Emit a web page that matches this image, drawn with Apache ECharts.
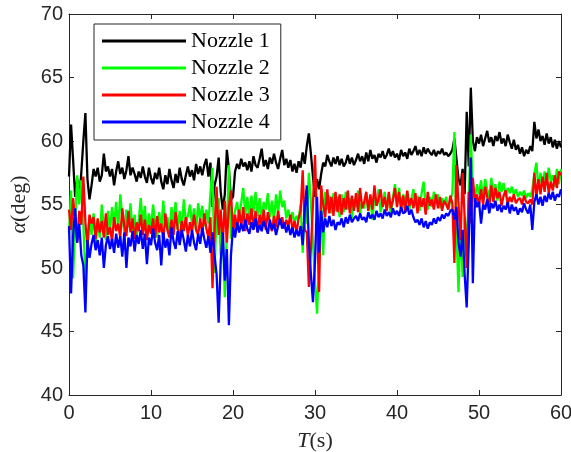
<!DOCTYPE html>
<html>
<head>
<meta charset="UTF-8">
<title>Nozzle angle</title>
<script src="https://cdn.jsdelivr.net/npm/echarts@6/dist/echarts.min.js"></script>
</head>
<body style="margin:0;background:#fff;">
<div id="main" style="width:571px;height:452px;"></div>
<script type="text/javascript">
// sample step (s) of the recorded signals
var dt = 0.25;
var seriesNames = ['Nozzle 1', 'Nozzle 2', 'Nozzle 3', 'Nozzle 4'];
var seriesColors = ['#000000', '#00ff00', '#ff0000', '#0000ff'];
var xTicks = [0, 10, 20, 30, 40, 50, 60];
var yTicks = [40, 45, 50, 55, 60, 65, 70];

// one row = 5 s
var nozzle1 = [
  57.2,61.3,58.5,55.6, 57.0,55.4,57.5,60.0, 62.2,57.0,55.4,56.5, 57.8,57.2,57.9,56.8, 57.3,59.0,57.6,58.0,
  57.2,57.8,56.5,57.6, 58.4,57.4,57.9,57.0, 57.7,58.8,57.3,57.9, 57.4,56.8,57.6,57.1, 58.0,57.2,56.7,57.9,
  57.1,56.6,57.5,57.0, 57.9,56.8,56.2,57.3, 56.6,57.8,56.9,56.3, 57.4,56.7,57.9,57.0, 56.5,57.3,58.0,57.2,
  57.7,56.9,58.2,57.4, 58.0,57.3,58.1,58.6, 57.2,58.3,54.8,56.5, 57.2,58.7,56.0,54.6, 55.8,59.3,57.8,55.4,
  55.6,57.6,58.2,57.8, 58.6,58.0,58.3,57.7, 58.4,57.6,58.8,58.1, 57.9,58.6,59.4,58.0, 58.5,57.8,58.7,58.2,
  59.0,58.3,57.8,58.6, 59.3,58.1,58.6,57.9, 58.5,57.6,58.2,57.5, 58.4,57.9,59.1,58.2, 59.6,60.6,59.0,57.2,
  55.6,57.0,56.2,57.4, 58.3,58.0,58.9,58.4, 58.0,58.7,58.2,58.8, 58.1,58.6,58.0,58.3, 58.9,58.2,58.7,58.1,
  58.5,59.0,58.4,58.8, 58.2,59.1,58.4,59.3, 58.6,58.9,58.3,59.0, 58.7,59.2,58.6,58.9, 59.4,58.8,59.2,58.7,
  59.0,58.5,59.3,58.8, 59.1,58.6,59.4,58.9, 59.2,59.6,58.9,59.3, 58.8,59.5,59.0,59.4, 59.1,58.9,59.3,58.8,
  59.2,59.0,59.4,58.9, 59.1,58.8,59.0,59.3, 60.2,58.6,57.0,56.5, 57.8,55.8,62.3,58.0, 64.2,60.0,59.2,60.3,
  59.8,60.5,59.6,60.2, 60.8,59.9,60.3,59.6, 60.4,60.0,60.7,59.8, 60.2,59.6,60.5,59.9, 59.4,60.1,59.3,59.7,
  59.0,59.5,58.8,59.3, 59.0,59.6,59.2,61.5, 60.2,60.9,60.0,60.4, 59.7,60.6,59.8,60.3, 59.5,60.1,59.4,60.0,
  59.5
];
var nozzle2 = [
  52.8,56.1,49.2,53.5, 57.3,55.0,56.9,53.4, 49.2,51.8,54.0,52.6, 54.3,52.0,53.8,52.4, 55.0,53.1,52.2,54.5,
  52.9,54.8,53.3,55.2, 53.0,55.8,54.0,52.8, 54.6,53.2,55.1,52.7, 54.2,52.5,53.7,55.5, 53.4,54.9,52.6,54.3,
  53.1,55.0,53.6,52.4, 54.4,52.9,55.3,53.2, 54.0,52.6,54.8,53.5, 55.2,53.0,54.5,52.8, 55.4,53.6,54.1,55.0,
  53.4,54.7,52.9,55.1, 53.8,54.9,53.3,54.6, 53.5,55.9,57.9,49.6, 54.5,55.5,51.0,53.0, 47.7,53.0,58.1,52.3,
  53.6,54.5,55.2,53.8, 55.1,56.3,54.2,55.6, 53.9,55.7,54.4,56.0, 54.1,55.5,53.8,55.2, 54.6,55.9,54.0,55.3,
  53.7,55.8,54.3,56.1, 54.8,55.3,53.9,54.6, 53.7,54.4,53.5,54.1, 53.9,55.0,51.2,54.8, 53.5,57.5,55.2,52.0,
  49.0,46.4,50.5,55.3, 51.0,56.0,54.6,55.7, 54.3,55.9,54.5,55.6, 54.0,55.8,54.4,56.0, 54.6,55.5,53.9,55.4,
  54.8,56.1,54.3,55.2, 54.7,55.9,54.5,55.6, 53.8,55.7,54.9,56.2, 54.4,55.1,56.0,54.6, 55.7,54.2,55.5,56.6,
  55.0,56.3,54.7,55.8, 55.2,56.0,54.6,55.4, 56.2,54.9,55.7,54.5, 55.9,56.8,55.0,54.6, 55.6,54.8,56.0,55.3,
  55.8,54.7,55.5,55.0, 55.6,54.6,55.3,55.9, 60.7,53.0,48.1,53.5, 49.3,54.0,52.0,55.5, 60.5,56.0,55.5,56.6,
  55.8,56.9,55.4,57.0, 56.2,55.5,57.1,55.9, 56.6,55.3,56.8,56.0, 56.7,55.6,56.3,55.9, 56.4,55.8,56.2,55.6,
  56.0,55.7,56.1,55.5, 55.9,55.6,56.2,57.4, 58.3,56.2,57.5,56.4, 57.6,56.5,57.9,56.8, 57.3,56.4,57.8,56.6,
  57.8
];
var nozzle3 = [
  54.6,53.0,55.5,53.6, 52.0,54.5,53.4,57.2, 53.6,51.6,54.2,53.5, 54.0,52.3,53.9,52.8, 53.7,52.4,54.3,52.6,
  53.2,52.1,54.0,52.9, 53.5,52.4,54.7,53.3, 52.5,54.5,52.8,53.9, 52.3,53.6,52.9,54.2, 52.6,53.8,52.2,53.4,
  52.7,53.9,52.4,54.1, 52.8,53.5,52.1,54.3, 53.0,52.4,53.8,52.6, 54.4,53.1,52.3,53.7, 52.9,54.0,52.5,53.6,
  52.8,54.2,53.0,52.6, 53.9,52.7,54.3,53.1, 52.4,54.0,48.4,53.0, 56.4,52.6,54.6,51.8, 55.3,52.0,54.8,56.1,
  52.6,54.2,53.0,54.6, 53.2,54.8,52.9,54.3, 53.4,54.7,53.1,54.5, 52.8,54.2,53.3,54.6, 53.0,54.4,53.6,52.9,
  54.1,53.2,54.5,53.4, 54.0,53.1,53.8,53.3, 54.2,53.0,53.7,52.8, 53.9,54.5,57.7,53.0, 52.8,48.5,51.5,55.0,
  58.9,53.5,48.1,56.5, 55.0,54.0,56.2,54.3, 55.6,54.1,56.0,54.4, 55.8,54.2,55.5,54.6, 56.1,54.3,55.7,54.5,
  55.9,54.4,56.3,54.7, 55.2,56.0,54.5,55.8, 54.6,56.5,54.9,55.4, 56.2,54.8,55.6,54.5, 56.0,54.7,55.3,56.3,
  54.8,56.0,54.6,55.7, 54.4,56.1,54.9,55.5, 54.7,55.9,54.3,55.6, 54.8,55.5,54.2,56.0, 54.9,55.4,54.6,55.8,
  54.7,55.6,54.5,55.3, 55.0,54.6,55.7,55.1, 50.4,58.1,55.0,52.2, 57.5,54.0,50.0,56.0, 53.5,57.1,55.2,55.8,
  54.9,56.2,55.0,56.4, 55.6,54.8,56.5,55.2, 56.3,55.5,56.0,54.9, 55.7,56.1,55.0,55.6, 55.2,55.8,55.1,55.4,
  55.5,55.0,55.7,55.2, 55.1,55.4,55.0,57.5, 55.6,57.0,55.8,57.2, 56.0,57.5,55.9,56.8, 56.1,57.3,56.3,57.6,
  57.3
];
var nozzle4 = [
  53.3,48.0,52.5,54.7, 52.0,53.5,51.0,50.2, 46.5,52.2,50.8,51.9, 52.6,51.4,52.2,51.0, 52.4,50.0,51.8,52.5,
  51.5,52.3,51.2,52.7, 51.6,52.5,50.9,52.8, 50.0,52.4,51.7,52.9, 51.3,52.6,51.9,53.0, 51.5,52.7,50.3,52.4,
  51.8,53.1,52.0,51.4, 52.6,50.2,52.8,51.6, 52.3,51.0,53.2,52.1, 51.5,52.9,51.8,53.0, 52.2,51.3,52.6,51.7,
  53.0,52.0,51.4,52.7, 51.9,53.2,52.3,51.6, 52.5,51.2,52.8,51.0, 49.5,45.7,50.5,52.8, 49.0,51.5,45.5,51.0,
  53.2,52.4,53.6,52.8, 53.5,52.9,53.8,53.1, 52.7,53.6,53.0,53.9, 52.8,53.4,52.9,53.7, 53.2,52.7,53.8,53.0,
  53.5,52.6,53.3,53.9, 53.1,53.6,52.8,53.4, 52.6,53.2,52.4,53.0, 52.5,53.3,51.8,54.6, 56.5,52.0,49.5,47.3,
  50.5,55.6,51.2,54.5, 52.8,53.9,53.2,54.1, 53.3,53.8,53.0,53.6, 53.4,53.9,53.2,54.0, 53.5,54.2,53.6,53.9,
  54.1,53.7,54.3,53.8, 54.0,53.6,54.4,53.9, 54.2,53.8,54.5,54.0, 54.3,53.9,54.6,54.1, 54.4,54.0,54.7,54.2,
  54.5,54.1,54.8,54.3, 54.4,54.9,54.2,54.6, 54.0,53.6,53.8,53.4, 53.9,53.2,53.7,53.1, 53.6,53.4,53.9,53.5,
  54.0,53.7,54.2,53.9, 54.3,54.1,54.5,54.6, 53.8,54.8,52.0,50.9, 53.0,49.5,46.9,52.0, 58.7,48.8,55.5,54.8,
  55.2,53.5,55.0,54.6, 55.4,54.3,55.1,54.7, 55.3,54.5,55.0,54.4, 54.9,54.6,55.2,54.3, 55.0,54.5,54.8,54.2,
  54.7,54.4,55.1,54.6, 54.3,55.0,53.0,55.2, 55.8,55.0,55.6,54.9, 55.7,55.2,55.9,55.4, 56.0,55.3,55.8,55.6,
  56.2
];

var allData = [nozzle1, nozzle2, nozzle3, nozzle4];

function pairs(arr) {
    var out = [];
    for (var i = 0; i < arr.length; i++) {
        out.push([i * dt, arr[i]]);
    }
    return out;
}

var axisColor = '#262626';
var tickFont = { fontFamily: 'Liberation Sans, Arial, sans-serif', fontSize: 20, color: axisColor };

var series = [];
for (var k = 0; k < allData.length; k++) {
    series.push({
        name: seriesNames[k],
        type: 'line',
        data: pairs(allData[k]),
        symbol: 'none',
        lineStyle: { color: seriesColors[k], width: 2.3 },
        itemStyle: { color: seriesColors[k] },
        xAxisIndex: 0,
        yAxisIndex: 0
    });
}

var myChart = echarts.init(document.getElementById('main'), null, { renderer: 'canvas' });

var option = {
    animation: false,
    backgroundColor: '#ffffff',
    // fixed plot box, no auto shrink for labels
    grid: { left: 69, right: 10, top: 14, bottom: 57, containLabel: false, outerBoundsMode: 'none' },
    legend: {
        data: seriesNames,
        orient: 'vertical',
        left: 94,
        top: 24,
        icon: 'rect',
        itemWidth: 84,
        itemHeight: 3,
        itemGap: 5,
        padding: [6, 11, 7, 8],
        borderColor: axisColor,
        borderWidth: 1,
        backgroundColor: '#ffffff',
        textStyle: { fontFamily: 'Liberation Serif, Times New Roman, serif', fontSize: 22, lineHeight: 22, color: '#000' }
    },
    xAxis: [{
        type: 'value',
        min: xTicks[0],
        max: xTicks[xTicks.length - 1],
        interval: 10,
        position: 'bottom',
        name: '{i|T}(s)',
        nameLocation: 'middle',
        nameGap: 35,
        nameTextStyle: {
            fontFamily: 'Liberation Serif, serif', fontSize: 22, color: axisColor,
            rich: { i: { fontFamily: 'Liberation Serif, serif', fontStyle: 'italic', fontSize: 22, color: axisColor } }
        },
        axisLine: { show: true, onZero: false, lineStyle: { color: axisColor, width: 1 } },
        axisTick: { inside: true, length: 5, lineStyle: { color: axisColor } },
        axisLabel: Object.assign({ margin: 8 }, tickFont),
        splitLine: { show: false }
    }, {
        type: 'value',
        min: xTicks[0],
        max: xTicks[xTicks.length - 1],
        interval: 10,
        position: 'top',
        axisLine: { show: true, onZero: false, lineStyle: { color: axisColor, width: 1 } },
        axisTick: { inside: true, length: 5, lineStyle: { color: axisColor } },
        axisLabel: { show: false },
        splitLine: { show: false }
    }],
    yAxis: [{
        type: 'value',
        min: yTicks[0],
        max: yTicks[yTicks.length - 1],
        interval: 5,
        position: 'left',
        name: '{i|α}(deg)',
        nameLocation: 'middle',
        nameGap: 33,
        nameTextStyle: {
            fontFamily: 'Liberation Serif, serif', fontSize: 22, color: axisColor,
            rich: { i: { fontFamily: 'Liberation Serif, serif', fontStyle: 'italic', fontSize: 22, color: axisColor } }
        },
        axisLine: { show: true, onZero: false, lineStyle: { color: axisColor, width: 1 } },
        axisTick: { inside: true, length: 5, lineStyle: { color: axisColor } },
        axisLabel: Object.assign({ margin: 6 }, tickFont),
        splitLine: { show: false }
    }, {
        type: 'value',
        min: yTicks[0],
        max: yTicks[yTicks.length - 1],
        interval: 5,
        position: 'right',
        axisLine: { show: true, onZero: false, lineStyle: { color: axisColor, width: 1 } },
        axisTick: { inside: true, length: 5, lineStyle: { color: axisColor } },
        axisLabel: { show: false },
        splitLine: { show: false }
    }],
    series: series
};

myChart.setOption(option);
</script>
</body>
</html>
